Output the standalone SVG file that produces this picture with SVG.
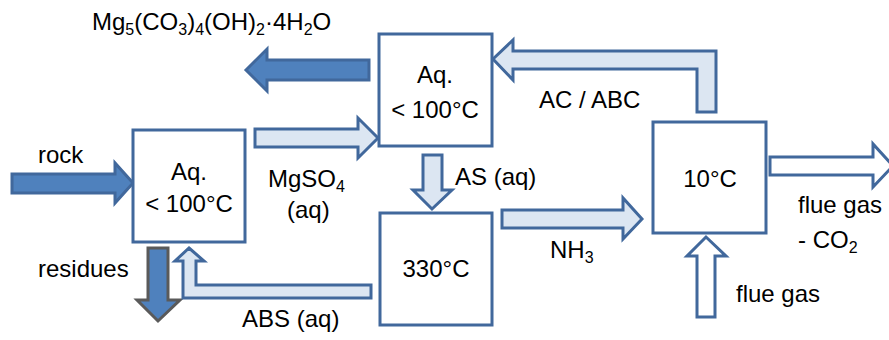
<svg xmlns="http://www.w3.org/2000/svg" width="889" height="340" viewBox="0 0 889 340">
<style>
.box{fill:#fff;stroke:#41689C;stroke-width:3}
.ar{stroke:#41689C;stroke-width:3;stroke-linejoin:miter}
.dk{fill:#4F81BD}
.lt{fill:#DCE6F2}
.wh{fill:#fff}
text{font-family:"Liberation Sans",Arial,sans-serif;font-size:24px;fill:#000}
.c{text-anchor:middle}
.s{font-size:16px}
</style>
<rect width="889" height="340" fill="#fff"/>
<g id="connectors">
<polygon class="ar dk" points="246,70 267,49 267,60 369,60 369,80 267,80 267,91"/>
<polygon class="ar dk" points="12,174 115,174 115,163 133,183 115,203 115,193 12,193"/>
<polygon class="ar lt" points="255,129 358,129 358,118 378,138 358,158 358,147 255,147"/>
<polygon class="ar lt" points="423,155 442,155 442,190 452,190 432,209 413,190 423,190"/>
<polygon class="ar lt" points="502,210 623,210 623,198 642,219 623,239 623,228 502,228"/>
<polygon class="ar wh" points="770,157 873,157 873,144 893,166 873,187 873,175 770,175"/>
<polygon class="ar wh" points="697,317 697,256 687,256 706,237 726,256 715,256 715,317"/>
<polygon class="ar dk" style="stroke:#5A5A5A" points="148,248 168,248 168,300 180,300 158,321 137,300 148,300"/>
<polygon class="ar lt" points="189,248 204,261 196,261 196,285 371,285 371,298 183,298 183,261 175,261"/>
<polygon class="ar lt" points="493,59 513,40 513,51 716,51 716,112 697,112 697,69 513,69 513,80"/>
</g>
<g id="box1"><rect class="box" x="133" y="130" width="112" height="112"/>
<text class="c" x="189" y="180">Aq.</text><text class="c" x="189" y="212">&lt; 100°C</text></g>
<g id="box2"><rect class="box" x="379" y="34" width="113" height="112"/>
<text class="c" x="435" y="83">Aq.</text><text class="c" x="435" y="118">&lt; 100°C</text></g>
<g id="box3"><rect class="box" x="380" y="213" width="112" height="112"/>
<text class="c" x="436" y="277">330°C</text></g>
<g id="box4"><rect class="box" x="653" y="122" width="113" height="111"/>
<text class="c" x="710" y="187">10°C</text></g>
<g id="labels">
<text x="92" y="30">Mg<tspan class="s" dy="5">5</tspan><tspan dy="-5">(CO</tspan><tspan class="s" dy="5">3</tspan><tspan dy="-5">)</tspan><tspan class="s" dy="5">4</tspan><tspan dy="-5">(OH)</tspan><tspan class="s" dy="5">2</tspan><tspan dy="-5">·4H</tspan><tspan class="s" dy="5">2</tspan><tspan dy="-5">O</tspan></text>
<text x="38" y="163">rock</text>
<text x="268" y="187">MgSO<tspan class="s" dy="5">4</tspan></text>
<text x="287" y="218">(aq)</text>
<text x="38" y="277">residues</text>
<text x="242" y="327">ABS (aq)</text>
<text x="455" y="185">AS (aq)</text>
<text x="550" y="258">NH<tspan class="s" dy="5">3</tspan></text>
<text x="539" y="108">AC / ABC</text>
<text x="798" y="213">flue gas</text>
<text x="798" y="248">- CO<tspan class="s" dy="5">2</tspan></text>
<text x="736" y="302">flue gas</text>
</g>
</svg>
